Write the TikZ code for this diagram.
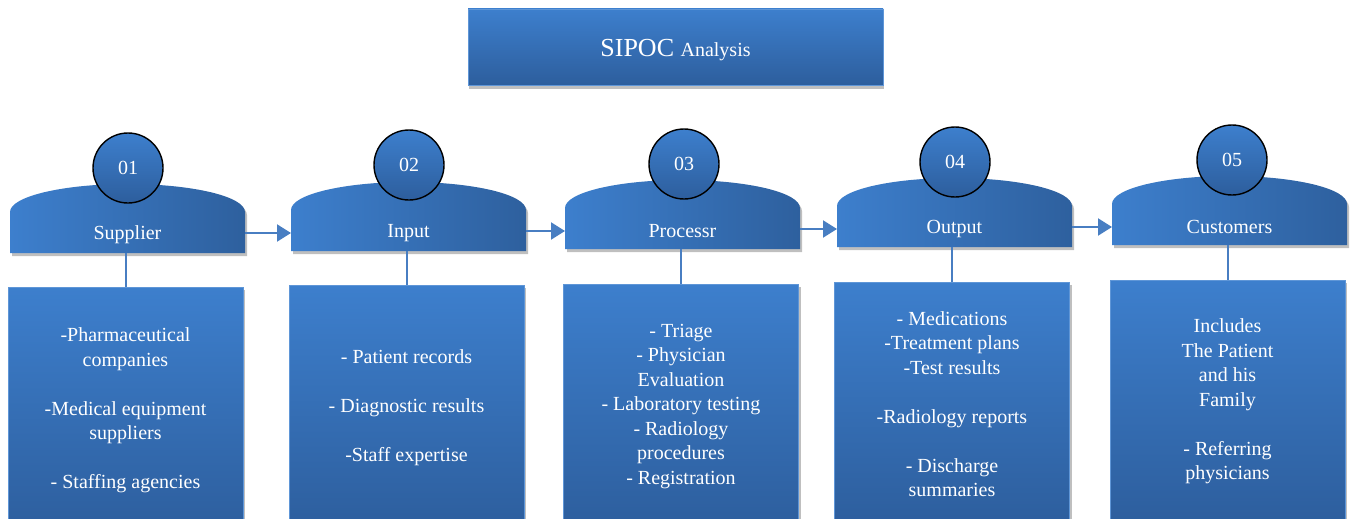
\documentclass[tikz,border=0pt]{standalone}
\usepackage{fontspec}
\setmainfont{LiberationSerif}[Extension=.ttf,UprightFont=*-Regular,BoldFont=*-Bold,ItalicFont=*-Italic,BoldItalicFont=*-BoldItalic]
\usetikzlibrary{arrows.meta,shadows,calc}
\definecolor{bluetop}{RGB}{61,127,205}
\definecolor{bluebot}{RGB}{45,94,157}
\definecolor{blueright}{RGB}{46,96,158}
\definecolor{conn}{RGB}{72,126,194}
\definecolor{edge}{RGB}{95,150,215}
\tikzset{
  shad/.style={drop shadow={shadow xshift=2pt,shadow yshift=-3pt,fill=black,opacity=0.25}},
  bigbox/.style={shad, top color=bluetop, bottom color=bluebot, draw=edge, line width=0.6pt,
    text=white, align=center, inner sep=0pt, minimum width=235pt,
    font=\rmfamily\fontsize{20}{24.5}\selectfont},
  titlebox/.style={drop shadow={shadow xshift=1pt,shadow yshift=-4pt,fill=black,opacity=0.25},
    top color=bluetop, bottom color=bluebot, draw=edge, line width=0.6pt, text=white,
    minimum width=415pt, minimum height=76pt, inner sep=0pt, font=\rmfamily},
  hdrtext/.style={text=white, font=\rmfamily\fontsize{20}{24}\selectfont, inner sep=0pt},
  circ/.style={circle, minimum size=70pt, inner sep=0pt, top color=bluetop, bottom color=bluebot,
    draw=black, line width=1.4pt, text=white, font=\rmfamily\fontsize{20}{24}\selectfont},
  connline/.style={draw=conn, line width=2pt},
  arr/.style={draw=conn, line width=2pt, -{Triangle[length=14pt,width=17pt]}, fill=conn}
}
\begin{document}
\begin{tikzpicture}[x=1pt,y=-1pt]
\useasboundingbox[fill=white] (0,0) rectangle (1354,519);

\node[titlebox, label={[text=white, font=\rmfamily, inner sep=0pt, yshift=-3pt]center:{\fontsize{26}{30}\selectfont SIPOC \fontsize{20}{24}\selectfont Analysis}}] (title) at (675.5,47) {};

\foreach \n/\L/\B/\cx/\cy/\num/\lab in {1/10/253/128/167/01/Supplier,2/291/251/409/164/02/Input,3/565/249/684/163/03/Processr,4/837/247/955/161/04/Output,5/1112/245/1232/159/05/Customers}{
  \pgfmathsetmacro\R{\L+235}
  \pgfmathsetmacro\S{\B-41}
  \pgfmathsetmacro\C{\L+117.5}
  \pgfmathsetmacro\T{\B-18}
  \pgfmathsetmacro\A{\B-20}
  \path[shad, left color=bluetop, right color=blueright] (\L,\B) -- (\L,\S)
     arc[start angle=180,end angle=360,x radius=117.5,y radius=28] -- (\R,\B) -- cycle;
  \node[hdrtext] (h\n) at (\C,\T) {\lab};
  \coordinate (hb\n) at (\C,\B);
  \coordinate (hl\n) at (\L,\A);
  \coordinate (hr\n) at (\R,\A);
  \node[circ] (c\n) at (\cx,\cy+1) {\num};
}

\draw[arr] (hr1) -- (hl2 |- hr1);
\draw[arr] (hr2) -- (hl3 |- hr2);
\draw[arr] (hr3) -- (hl4 |- hr3);
\draw[arr] (hr4) -- (hl5 |- hr4);

\node[bigbox, minimum height=247pt] (b1) at (125.5,410.5)
  {-Pharmaceutical\\companies\\[24.5pt]-Medical equipment\\suppliers\\[24.5pt]- Staffing agencies};
\node[bigbox, minimum height=246pt] (b2) at (406.5,408)
  {- Patient records\\[24.5pt]- Diagnostic results\\[24.5pt]-Staff expertise};
\node[bigbox, minimum height=245pt] (b3) at (681,406.5)
  {- Triage\\- Physician\\Evaluation\\- Laboratory testing\\- Radiology\\procedures\\- Registration};
\node[bigbox, minimum height=244pt] (b4) at (952,404)
  {- Medications\\-Treatment plans\\-Test results\\[24.5pt]-Radiology reports\\[24.5pt]- Discharge\\summaries};
\node[bigbox, minimum height=243pt] (b5) at (1227.5,401.5)
  {Includes\\The Patient\\and his\\Family\\[24.5pt]- Referring\\physicians};

\foreach \n in {1,...,5}{
  \draw[connline] (b\n.north |- hb\n) -- (b\n.north);
}
\end{tikzpicture}
\end{document}
